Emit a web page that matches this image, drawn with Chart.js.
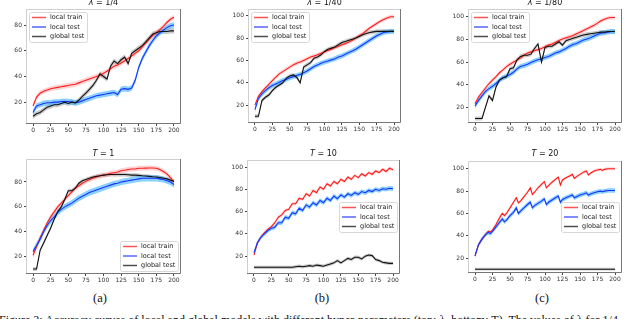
<!DOCTYPE html>
<html>
<head>
<meta charset="utf-8">
<script src="https://cdn.jsdelivr.net/npm/chart.js@4.4.1/dist/chart.umd.min.js"></script>
<style>
  body { margin: 0; width: 640px; height: 319px; overflow: hidden; background: #fff; position: relative; }
  canvas.c { position: absolute; }
  .ttl { position: absolute; font: 8px "DejaVu Sans"; color: #111; text-align: center; white-space: nowrap; }
  .ttl i { font-style: italic; }
  .cap { position: absolute; font: 12.5px "Liberation Serif"; color: #111; text-align: center; }
  .fig { position: absolute; left: -1px; top: 313px; font: 12px "Liberation Serif"; color: #111; white-space: nowrap; }
</style>
</head>
<body>
<canvas class="c" id="pA"></canvas>
<canvas class="c" id="pB"></canvas>
<canvas class="c" id="pC"></canvas>
<canvas class="c" id="pD"></canvas>
<canvas class="c" id="pE"></canvas>
<canvas class="c" id="pF"></canvas>

<div class="ttl" style="left:26px;width:155px;top:-2px"><i>λ</i> = 1/4</div>
<div class="ttl" style="left:248px;width:153px;top:-2px"><i>λ</i> = 1/40</div>
<div class="ttl" style="left:468px;width:154px;top:-2px"><i>λ</i> = 1/80</div>
<div class="ttl" style="left:26px;width:155px;top:149px"><i>T</i> = 1</div>
<div class="ttl" style="left:247px;width:153px;top:149px"><i>T</i> = 10</div>
<div class="ttl" style="left:468px;width:154px;top:149px"><i>T</i> = 20</div>

<div class="cap" style="left:80px;width:40px;top:291px">(a)</div>
<div class="cap" style="left:302px;width:40px;top:291px">(b)</div>
<div class="cap" style="left:522px;width:40px;top:291px">(c)</div>
<div class="fig">Figure 2: Accuracy curves of local and global models with different hyper-parameters (top: λ, bottom: T). The values of λ for 1/4</div>

<script>
// epochs
const EP = [0,5,10,15,20,25,30,35,40,45,50,55,60,65,70,75,80,85,90,95,100,105,110,115,120,125,130,135,140,145,150,155,160,165,170,175,180,185,190,195,200];
const EP20 = [0,5,10,15,19,22,25,30,35,39,42,45,50,55,59,62,65,70,75,79,82,85,90,95,99,102,105,110,115,119,122,125,130,135,139,142,145,150,155,159,162,165,170,175,179,182,185,190,195,200];

const SERIES = ['local train', 'local test', 'global test'];
const X_TICKS = [0,25,50,75,100,125,150,175,200];
const Y_TICKS_80 = [20,40,60,80];
const Y_TICKS_100 = [20,40,60,80,100];

// lambda = 1/4
const a_train = [17,24,27,28.5,29.5,30.5,31,31.5,32,32.5, 33,33.5,34,35,36,37,38,39,40,41, 42.5,44,46,48,49,50.5,52,54,56,58, 60,63,66,69,72,74,76.5,79,82,84.5, 86];
const a_test = [12,17,18,19,19.5,19.5,20,20,20.5,20.5, 20.5,20,19.5,20,21,22,23,24,25,25.5, 26,26.5,27,27.5,26,30,30.5,30,31,37, 47,54,59,64,68,71.5,74,76,78,79.5, 80];
const a_global = [9,11,12,14,16,17,18,18,19,20, 19,20,19.5,21.5,24.5,27,30,33,37,42, 40,38,48,52,50,53,55,50,58,60, 62,64,67,70,73,74,75,75,75,75.5, 75.5];

// lambda = 1/40
const b_train = [20,28,32,35.5,38.5,42,45,48,50,52, 54,56,57.5,58.5,60,61.5,63,64,65,66.5, 67.5,69,70,71.5,72.5,74,75,76.5,78,80, 82,84,86.5,89,91,93,95,96.5,98,99, 99];
const b_test = [16,26,30,33,35.5,37.5,39,40.5,42,43, 44.5,45.5,46.5,47.5,49,50.5,52.5,54.5,56,57.5, 58.5,59.5,60.5,61.5,63,64,65.5,67,68.5,70, 72,74,76,78,80,82,83.5,85,85.5,86, 86];
const b_global = [10,10,24,27,29,33,36,38,40,44, 46,47,45,40,54,56,58,62,63,65, 68,70,71,72,74,76,77,78,79,80, 81.5,83,84,85,85.5,86,86,86,86,86, 86];

// lambda = 1/80
const c_train = [23,29,33,37,41,44,47,50.5,53,56, 58,60,61.5,63.5,66,68,69,70,71,72, 73.5,75,76,77.5,79,80.5,81.5,82.5,83.5,85, 86.5,88,89.5,91,92.5,94.5,96.5,98,99,99.5, 99.5];
const c_test = [21,26,30,34,36.5,38.5,41,44,46,47.5, 49,51,54,56,57,58,59.5,61,62,63, 64,65,66.5,68,69,70.5,72,74,75.5,76.5, 78,79.5,80.5,81.5,83,84.5,85.5,86,86.5,87, 87];
const c_global = [10,10,10,20,30,26,38,44,46,47, 54,55,62,65,66,66,67,72,76,60, 73,74,74,76,78,75,79,80,81,82, 83,84,84.5,85,85.5,86,86.5,86.5,87,87, 87];

// T = 1
const d_train = [21,28,35,41,47,52,56,60,63,66, 69,72,75,77,79,80.5,82,83,84,85, 85.5,86,87,87.5,88,89,89.5,90,90.5,90.5, 91,91,91.2,91.3,91.3,91,90,88.5,86.5,83.5, 80];
const d_test = [24,29,34,40,45,49,52,55.5,58,60, 61.5,63,65,67,68.5,70,71.5,72.5,73.5,74.5, 75.5,76.5,77.5,78.5,79,80,80.5,81,81.5,82, 82.5,83,83,83,83,83,82.5,82,81,80, 78];
const d_global = [10,10,25,31,37,43,50,56,60,66, 73,73,75,79,81,82,83,84,84.5,85, 85.5,85.8,86,86,86,86,86,85.8,85.5,85.5, 85.3,85,84.8,84.5,84.2,84,83.5,83,82.5,81.5, 80.5];

// T = 10
const e_train = [21,32,37,41,44,46.5,50,55,57,61, 62,67,67,72,71,76,74,79,77,82, 80,85,83,87,85,89,87,91,89,92.5, 90.5,94,92,95,93.5,96.5,95,98,96,99, 97.5];
const e_test = [23,32,37,40,43,45,46,50,50,55, 54,59,58,63,61,66,64,68,66,70, 68,72,70,74,71.5,75,73,76,74.5,77, 75.5,78,77,79,78,80,79,80.5,80,81, 80.5];
const e_global = [10,10,10,10,10,10,10,10,10,10, 10,10,10.5,11,10.5,11,11.5,11,12,11.5, 11,12,13,14,16,14,16,18,17,19, 19,17.5,20,21,20.5,17,16,14.5,14,13.5, 13.5];

// T = 20
const f_train = [22,32,37,41, 44,43.5,45,50,56, 60,58,60,65,70, 74,69.5,71,75,79, 83,77,79,83,86, 88.5,83,85,88,90.5, 92.5,85.5,90,92,93.5, 95,91.5,93,95,97, 98,94.5,96,98,99, 99.5,98.5,99.5,100,100, 100];
const f_test = [22,32,37,41, 43,42,44,48,52, 55,52.5,54,58,61, 65,60,62,65,68, 70,65,67,69,71, 73,68,70,72,74, 75.5,70,72.5,74,75.5, 76.5,74,75,76.5,77.5, 78.5,76.5,77.5,78.5,79.5, 80,79.5,80,80.5,80.5, 80.5];
const f_global = [10,10,10,10, 10,10,10,10,10, 10,10,10,10,10, 10,10,10,10,10, 10,10,10,10,10, 10,10,10,10,10, 10,10,10,10,10, 10,10,10,10,10, 10,10,10,10,10, 10,10,10,10,10, 10];

const LINE = ['#ff1a1a', '#1a33ff', '#111111'];
const BAND = ['rgba(255,110,110,0.30)', 'rgba(40,170,255,0.55)', 'rgba(100,100,100,0.35)'];

const frame = {
  id: 'frame',
  afterDraw(chart) {
    const { ctx, chartArea: a } = chart;
    ctx.save();
    ctx.lineWidth = 1;
    ctx.strokeStyle = '#cfcfcf';
    ctx.beginPath();
    ctx.moveTo(a.left + 0.5, a.bottom); ctx.lineTo(a.left + 0.5, a.top + 0.5); ctx.lineTo(a.right, a.top + 0.5);
    ctx.stroke();
    ctx.strokeStyle = '#777';
    ctx.beginPath();
    ctx.moveTo(a.right - 0.5, a.top); ctx.lineTo(a.right - 0.5, a.bottom - 0.5); ctx.lineTo(a.left, a.bottom - 0.5);
    ctx.stroke();
    ctx.restore();
  }
};

// legend drawn inside the axes, matplotlib style
const insideLegend = {
  id: 'insideLegend',
  afterDatasetsDraw(chart, args, opts) {
    const { ctx, chartArea: a } = chart;
    const w = 58, h = 30, pad = 3;
    let x, y;
    if (opts.loc === 'upper left') { x = a.left + pad; y = a.top + pad; }
    else if (opts.loc === 'lower right') { x = a.right - pad - w; y = a.bottom - pad - h; }
    else { x = a.right - pad - w; y = (a.top + a.bottom) / 2 - h / 2; }
    ctx.save();
    ctx.fillStyle = 'rgba(255,255,255,0.85)';
    ctx.strokeStyle = '#d8d8d8';
    ctx.lineWidth = 1;
    ctx.beginPath();
    ctx.roundRect(x + 0.5, y + 0.5, w, h, 2);
    ctx.fill(); ctx.stroke();
    ctx.font = '6.5px "DejaVu Sans"';
    ctx.textBaseline = 'middle';
    SERIES.forEach((s, i) => {
      const ly = y + 5.5 + i * 9.5;
      ctx.strokeStyle = LINE[i];
      ctx.globalAlpha = 0.75;
      ctx.lineWidth = 1.5;
      ctx.beginPath(); ctx.moveTo(x + 3, ly); ctx.lineTo(x + 17, ly); ctx.stroke();
      ctx.globalAlpha = 1;
      ctx.fillStyle = '#222';
      ctx.fillText(s, x + 21, ly);
    });
    ctx.restore();
  }
};

function makePanel(id, rect, eps, series, spreads, yr, yTicks, loc) {
  const padL = 30, padT = 8, padR = 6, padB = 16;
  const cv = document.getElementById(id);
  const W = rect.r - rect.l + padL + padR, H = rect.b - rect.t + padT + padB;
  cv.style.left = (rect.l - padL) + 'px';
  cv.style.top = (rect.t - padT) + 'px';
  cv.width = W; cv.height = H;
  cv.style.width = W + 'px'; cv.style.height = H + 'px';

  const datasets = [];
  // main lines: later series drawn on top (lower order)
  series.forEach((vals, i) => {
    datasets.push({
      data: eps.map((e, k) => ({ x: e, y: vals[k] })),
      borderColor: LINE[i], borderWidth: 1.1, pointRadius: 0, fill: false,
      order: 2 - i
    });
  });
  // bands
  series.forEach((vals, i) => {
    const lo = datasets.length;
    datasets.push({
      data: eps.map((e, k) => ({ x: e, y: vals[k] - spreads[i] })),
      borderWidth: 0, pointRadius: 0, fill: false, order: 10
    });
    datasets.push({
      data: eps.map((e, k) => ({ x: e, y: vals[k] + spreads[i] })),
      borderWidth: 0, pointRadius: 0, fill: lo, backgroundColor: BAND[i], order: 10
    });
  });

  new Chart(cv, {
    type: 'line',
    data: { datasets },
    options: {
      responsive: false, animation: false,
      layout: { padding: { top: padT, right: padR, left: 0, bottom: 0 } },
      plugins: { legend: { display: false }, tooltip: { enabled: false }, insideLegend: { loc } },
      scales: {
        x: {
          type: 'linear', min: -10, max: 210,
          afterBuildTicks: s => { s.ticks = X_TICKS.map(v => ({ value: v })); },
          afterFit: s => { s.height = padB; },
          grid: { drawOnChartArea: false, tickLength: 2, color: '#444' },
          border: { display: false },
          ticks: { font: { family: 'DejaVu Sans', size: 6 }, color: '#333', padding: 1, maxRotation: 0, autoSkip: false }
        },
        y: {
          min: yr[0], max: yr[1],
          afterBuildTicks: s => { s.ticks = yTicks.map(v => ({ value: v })); },
          afterFit: s => { s.width = padL; },
          grid: { drawOnChartArea: false, tickLength: 2, color: '#444' },
          border: { display: false },
          ticks: { font: { family: 'DejaVu Sans', size: 6 }, color: '#333', padding: 2 }
        }
      }
    },
    plugins: [insideLegend, frame]
  });
}

makePanel('pA', { l: 26, t: 9, r: 181, b: 124 }, EP, [a_train, a_test, a_global], [2, 2.2, 2], [3, 92.5], Y_TICKS_80, 'upper left');
makePanel('pB', { l: 248, t: 9, r: 401, b: 123 }, EP, [b_train, b_test, b_global], [1.8, 2.2, 1.8], [4, 106], Y_TICKS_100, 'upper left');
makePanel('pC', { l: 468, t: 9, r: 622, b: 123 }, EP, [c_train, c_test, c_global], [1.8, 2.2, 1.8], [6, 107], Y_TICKS_100, 'upper left');
makePanel('pD', { l: 26, t: 159, r: 181, b: 274 }, EP, [d_train, d_test, d_global], [2, 2.5, 1.5], [6, 98.5], Y_TICKS_80, 'lower right');
makePanel('pE', { l: 247, t: 160, r: 400, b: 274 }, EP, [e_train, e_test, e_global], [1.5, 2, 1.5], [4, 106.3], Y_TICKS_100, 'center right');
makePanel('pF', { l: 468, t: 161, r: 622, b: 273 }, EP20, [f_train, f_test, f_global], [1.4, 2, 1.2], [6.6, 107], Y_TICKS_100, 'center right');
</script>
</body>
</html>
